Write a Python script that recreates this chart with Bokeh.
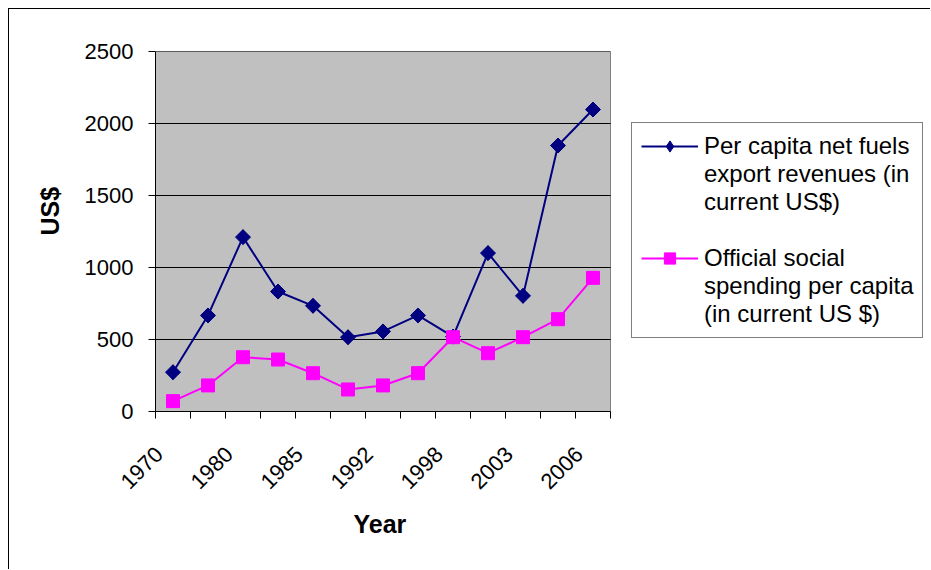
import numpy as np
from bokeh.plotting import figure
from bokeh.models import (Range1d, FixedTicker, Legend, LegendItem, Title, ColumnDataSource)
from bokeh.embed import file_html
from bokeh.resources import INLINE

# ---- data ----
years = ["1970", "1975", "1980", "1982", "1985", "1988", "1992",
         "1995", "1998", "2000", "2003", "2005", "2006"]
fuel_revenues = [273, 667, 1211, 833, 734, 516, 556, 667, 520, 1100, 803, 1847, 2097]
social_spending = [72, 181, 377, 361, 266, 153, 181, 266, 516, 405, 516, 641, 928]
shown_tick_labels = ["1970", "1980", "1985", "1992", "1998", "2003", "2006"]
y_ticks = [0, 500, 1000, 1500, 2000, 2500]
fuel_name_lines = ["Per capita net fuels", "export revenues (in", "current US$)"]
social_name_lines = ["Official social", "spending per capita", "(in current US $)"]

FONT = "Liberation Sans"
n = len(years)
xpos = [i + 0.5 for i in range(n)]
src = ColumnDataSource(dict(x=xpos, fuel=fuel_revenues, social=social_spending, year=years))

# layout (pixels)
W, H = 922, 561
LEFT, TOP, BOTTOM, RIGHT = 146, 42, 159, 0
PLOT_W = 455                      # width of the grey plot area
frame_w = W - LEFT - RIGHT
px_per_unit = PLOT_W / n
x_end = frame_w / px_per_unit
LABEL_SHIFT = 14 / px_per_unit    # rotated tick labels sit a bit left of category centre

p = figure(width=W, height=H, output_backend="svg", toolbar_location=None,
           x_range=Range1d(0, x_end), y_range=Range1d(0, y_ticks[-1]),
           min_border_left=LEFT, min_border_right=RIGHT, min_border_top=TOP,
           min_border_bottom=BOTTOM)
p.styles = {"margin-left": "8px", "margin-top": "8px",
            "border-left": "1px solid black", "border-top": "1px solid black"}
p.background_fill_color = "white"
p.border_fill_color = "white"
p.outline_line_color = None
p.xgrid.visible = False
p.ygrid.visible = False

# grey plot area + grid lines
p.quad(left=0, right=n, bottom=y_ticks[0], top=y_ticks[-1], fill_color="#C0C0C0",
       line_color="#808080", line_width=1, level="image")
p.segment(x0=[0] * len(y_ticks), x1=[n] * len(y_ticks), y0=y_ticks, y1=y_ticks,
          line_color="black", line_width=1, level="underlay")

# axes
xa = p.xaxis[0]
label_pos = [xpos[i] - LABEL_SHIFT for i in range(0, n, 2)]
xa.bounds = (0, n)
xa.ticker = FixedTicker(ticks=label_pos, minor_ticks=list(range(n + 1)))
xa.major_label_overrides = {pos: lab for pos, lab in zip(label_pos, shown_tick_labels)}
xa.major_tick_out = 0
xa.major_tick_in = 0
xa.minor_tick_out = 7
xa.minor_tick_in = 0
xa.minor_tick_line_color = "black"
xa.axis_line_color = "black"
xa.major_label_orientation = np.pi / 4
xa.major_label_text_font = FONT
xa.major_label_text_font_size = "22px"
xa.major_label_text_color = "black"
xa.major_label_standoff = 32

ya = p.yaxis[0]
ya.ticker = FixedTicker(ticks=y_ticks, minor_ticks=[])
ya.major_tick_out = 7
ya.major_tick_in = 0
ya.major_tick_line_color = "black"
ya.axis_line_color = "black"
ya.major_label_text_font = FONT
ya.major_label_text_font_size = "22px"
ya.major_label_text_color = "black"
ya.major_label_standoff = 15

# axis titles
p.add_layout(Title(text="US$", align="left", offset=176, standoff=36,
                   text_font=FONT, text_font_style="bold", text_font_size="25px",
                   text_color="black"), "left")
p.add_layout(Title(text="Year", align="left", offset=198, standoff=18,
                   text_font=FONT, text_font_style="bold", text_font_size="25px",
                   text_color="black"), "below")

# series
l1 = p.line("x", "fuel", source=src, line_color="#000080", line_width=2)
m1 = p.scatter("x", "fuel", source=src, marker="square", angle=np.pi / 4, size=10.6,
               fill_color="#000080", line_color="#000080")
# legend marker for the diamonds (fully hidden under the rotated squares)
m1_leg = p.scatter("x", "fuel", source=src, marker="diamond", size=14.5,
                   fill_color="#000080", line_color="#000080")
l2 = p.line("x", "social", source=src, line_color="#FF00FF", line_width=2)
m2 = p.scatter("x", "social", source=src, marker="square", size=13,
               fill_color="#FF00FF", line_color="#FF00FF")
blank = p.line(x=[], y=[], line_alpha=0)

items = [LegendItem(label=fuel_name_lines[0], renderers=[l1, m1_leg])]
items += [LegendItem(label=t, renderers=[blank]) for t in fuel_name_lines[1:]]
items += [LegendItem(label=" ", renderers=[blank])]
items += [LegendItem(label=social_name_lines[0], renderers=[l2, m2])]
items += [LegendItem(label=t, renderers=[blank]) for t in social_name_lines[1:]]

legend = Legend(items=items, location=(476, 73), orientation="vertical")
legend.label_text_font = FONT
legend.label_text_font_size = "24px"
legend.label_text_color = "black"
legend.label_height = 28
legend.glyph_height = 28
legend.glyph_width = 57
legend.label_standoff = 6
legend.padding = 9
legend.spacing = 0
legend.margin = 0
legend.border_line_color = "black"
legend.border_line_width = 1
legend.background_fill_color = "white"
legend.background_fill_alpha = 1
p.add_layout(legend, "center")

open("out.html", "w").write(file_html(p, INLINE))
